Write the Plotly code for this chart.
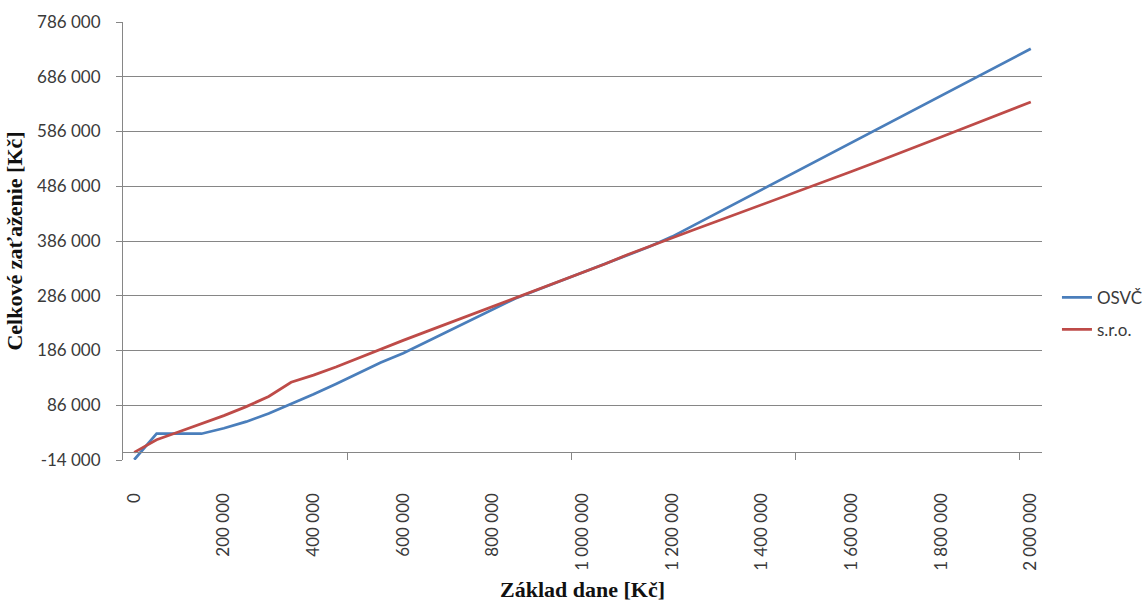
import plotly.graph_objects as go

# Základ dane (tax base), CZK
zaklad = [
    0, 50000, 100000, 150000, 200000, 250000, 300000, 350000, 400000, 450000,
    500000, 550000, 600000, 650000, 700000, 750000, 800000, 850000, 900000, 950000,
    1000000, 1050000, 1100000, 1150000, 1200000, 1250000, 1300000, 1350000, 1400000, 1450000,
    1500000, 1550000, 1600000, 1650000, 1700000, 1750000, 1800000, 1850000, 1900000, 1950000,
    2000000,
]

# Celkové zaťaženie (total burden), CZK
osvc = [
    -13500, 34000, 34000, 34000, 44000, 56000, 71000, 88000, 106000, 125000,
    145000, 164000, 181000, 201000, 221000, 241000, 261000, 281000, 297000, 312500,
    328000, 344000, 360000, 376000, 394000, 415500, 437000, 458000, 480000, 501000,
    523000, 544000, 566000, 587000, 609000, 630000, 651500, 673000, 694500, 716000,
    737000,
]
sro = [
    0, 23000, 37600, 52000, 67000, 83500, 102000, 128000, 141000, 156000,
    172500, 189000, 204500, 220000, 235500, 251000, 266500, 282000, 297500, 313000,
    328500, 344000, 361000, 376800, 392000, 407000, 422000, 437000, 452000, 467000,
    482500, 498000, 513000, 528500, 544000, 560000, 576000, 592000, 608000, 624000,
    640000,
]

x_tick_vals = [0, 200000, 400000, 600000, 800000, 1000000, 1200000, 1400000, 1600000, 1800000, 2000000]
y_tick_vals = [-14000, 86000, 186000, 286000, 386000, 486000, 586000, 686000, 786000]


def fmt(v):
    return f"{v:,}".replace(",", " ")


GRID = "#868686"
TEXT = "#3a3a3a"
step = zaklad[1] - zaklad[0]
x_range = [zaklad[0] - step / 2, zaklad[-1] + step / 2]
y_range = [y_tick_vals[0], y_tick_vals[-1]]
# category-boundary tick marks every 10 categories on the category axis
boundary_ticks = [(zaklad[k] + zaklad[k + 1]) / 2 for k in range(9, len(zaklad) - 1, 10)]

fig = go.Figure()
fig.add_trace(go.Scatter(x=zaklad, y=osvc, mode="lines", name="OSVČ", legendgroup="a",
                         line=dict(color="#4A7EBB", width=2.75)))
fig.add_trace(go.Scatter(x=zaklad, y=sro, mode="lines", name="s.r.o.", legendgroup="b",
                         line=dict(color="#BE4B48", width=2.75)))

fig.update_layout(
    width=1148, height=603,
    margin=dict(l=123, r=106, t=22, b=143, autoexpand=False),
    paper_bgcolor="white", plot_bgcolor="white",
    font=dict(family="Lato", color=TEXT, size=17),
    showlegend=True,
    legend=dict(x=1.1153, xanchor="right", y=0.4115, yanchor="top",
                traceorder="grouped", tracegroupgap=7,
                font=dict(family="Lato", size=17, color=TEXT),
                bgcolor="rgba(0,0,0,0)"),
    xaxis=dict(
        range=x_range, anchor="free",
        position=(0 - y_range[0]) / (y_range[1] - y_range[0]),
        tickvals=x_tick_vals, ticktext=[fmt(v) for v in x_tick_vals],
        tickangle=-90, ticks="", showgrid=False, zeroline=False,
        showline=True, linecolor=GRID, linewidth=1,
        minor=dict(tickmode="array", tickvals=boundary_ticks, ticks="outside",
                   ticklen=7, tickcolor=GRID, tickwidth=1, showgrid=False),
        tickfont=dict(size=17, color=TEXT), ticklabelstandoff=33,
        automargin=False,
        title=dict(text="<b>Základ dane [Kč]</b>", standoff=11,
                   font=dict(family="Liberation Serif", size=22, color="#111111")),
    ),
    yaxis=dict(
        range=y_range, tickvals=y_tick_vals, ticktext=[fmt(v) for v in y_tick_vals],
        showgrid=True, gridcolor=GRID, gridwidth=1,
        showline=True, linecolor=GRID, linewidth=1,
        ticks="outside", ticklen=6, tickcolor=GRID,
        zeroline=False, automargin=False,
        tickfont=dict(size=17, color=TEXT), ticklabelstandoff=12,
        title=dict(text="<b>Celkové zaťaženie [Kč]</b>", standoff=8,
                   font=dict(family="Liberation Serif", size=22, color="#111111")),
    ),
)

fig.write_html("out.html")
